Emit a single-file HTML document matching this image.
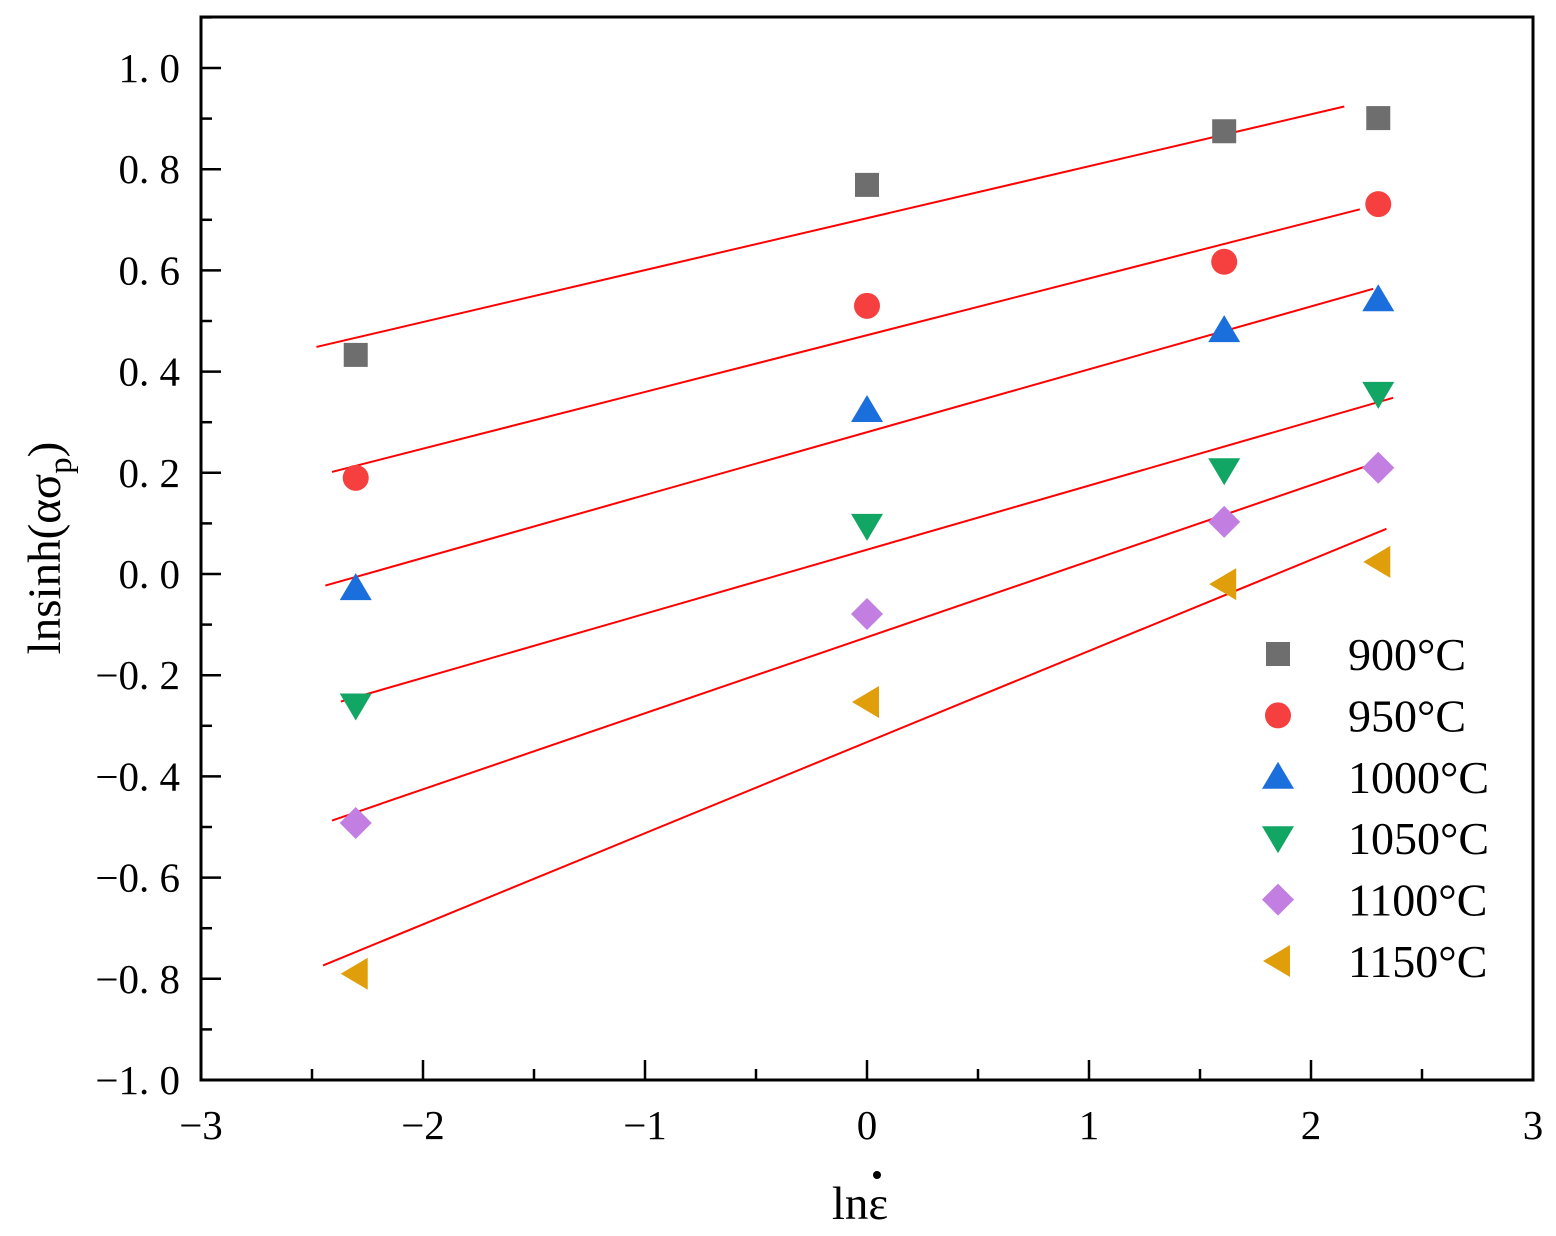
<!DOCTYPE html>
<html><head><meta charset="utf-8"><style>
html,body{margin:0;padding:0;background:#fff;}
svg{display:block;font-family:"Liberation Serif","Times New Roman",serif;}
</style></head><body>
<svg id="chart" width="1556" height="1236" viewBox="0 0 1556 1236">
<g id="plot"></g>
</svg>
<script>
const xCats = [-2.303, 0, 1.609, 2.303];
const seriesNames = ["900\u00B0C","950\u00B0C","1000\u00B0C","1050\u00B0C","1100\u00B0C","1150\u00B0C"];
const s900 = [0.433, 0.769, 0.875, 0.901];
const s950 = [0.190, 0.530, 0.617, 0.731];
const s1000 = [-0.028, 0.324, 0.482, 0.543];
const s1050 = [-0.260, 0.095, 0.205, 0.356];
const s1100 = [-0.492, -0.079, 0.103, 0.210];
const s1150 = [-0.790, -0.253, -0.020, 0.024];
const fitStart = [-2.48, -2.41, -2.44, -2.37, -2.41, -2.45];
const fitEnd = [2.15, 2.22, 2.28, 2.37, 2.30, 2.34];
const xTicks = [-3,-2,-1,0,1,2,3];
const yTicks = [-1.0,-0.8,-0.6,-0.4,-0.2,0.0,0.2,0.4,0.6,0.8,1.0];
const yLabels = ["\u22121. 0","\u22120. 8","\u22120. 6","\u22120. 4","\u22120. 2","0. 0","0. 2","0. 4","0. 6","0. 8","1. 0"];
const xLabels = ["\u22123","\u22122","\u22121","0","1","2","3"];

const L=201,R=1533,T=17,B=1080;
const X=v=>L+(v+3)/6*(R-L);
function yPx(v){return 1080-(v+1)*506;}
const NS="http://www.w3.org/2000/svg";
const svg=document.getElementById('chart');
function el(tag,attrs,parent){const e=document.createElementNS(NS,tag);for(const k in attrs)e.setAttribute(k,attrs[k]);(parent||svg).appendChild(e);return e;}

const frame=el('rect',{x:L,y:T,width:R-L,height:B-T,fill:'none',stroke:'#000','stroke-width':3});



xTicks.forEach((t,i)=>{
  const x=X(t);
  const tk=el('line',{x1:x,x2:x,y1:B,y2:B-20,stroke:'#000','stroke-width':2.5});
  
  
  if(i<xTicks.length-1){const xm=X(t+0.5);const m=el('line',{x1:xm,x2:xm,y1:B,y2:B-11,stroke:'#000','stroke-width':2.5});
    
    }
  const lb=el('text',{x:x,y:1139,'font-size':41,'text-anchor':'middle'});lb.textContent=xLabels[i];
  
  
});
yTicks.forEach((t,i)=>{
  const y=yPx(t);
  const tk=el('line',{x1:L,x2:L+20,y1:y,y2:y,stroke:'#000','stroke-width':2.5});
  
  
  const ym=yPx(t+0.1);
  if(ym>T){const m=el('line',{x1:L,x2:L+11,y1:ym,y2:ym,stroke:'#000','stroke-width':2.5});
    
    }
  const lb=el('text',{x:180,y:y+14,'font-size':41,'text-anchor':'end'});lb.textContent=yLabels[i];
  
  
});
const xt=el('text',{x:860,y:1219,'font-size':47,'text-anchor':'middle'});xt.textContent='ln\u03B5';


const dot=el('circle',{cx:877,cy:1175,r:4,fill:'#000'});


const yt=el('text',{transform:'translate(60,548) rotate(-90)','font-size':47,'text-anchor':'middle'});
yt.innerHTML='lnsinh(\u03B1\u03C3<tspan font-size="33" dy="11">p</tspan><tspan dy="-11">)</tspan>';



const all=[s900,s950,s1000,s1050,s1100,s1150];
const colors=['#6e6e6e','#f64040','#1a6fdc','#11a663','#c27ee0','#e09e0b'];
function marker(k,cx,cy,parent){
  const c=colors[k];let e;
  if(k===0) e=el('rect',{x:cx-12,y:cy-12,width:24,height:24,fill:c},parent);
  else if(k===1) e=el('circle',{cx:cx,cy:cy,r:13,fill:c},parent);
  else if(k===2) e=el('polygon',{points:`${cx},${cy-15} ${cx+16},${cy+12} ${cx-16},${cy+12}`,fill:c},parent);
  else if(k===3) e=el('polygon',{points:`${cx},${cy+15} ${cx+16},${cy-12} ${cx-16},${cy-12}`,fill:c},parent);
  else if(k===4) e=el('polygon',{points:`${cx},${cy-16} ${cx+16},${cy} ${cx},${cy+16} ${cx-16},${cy}`,fill:c},parent);
  else e=el('polygon',{points:`${cx-15},${cy} ${cx+12},${cy-16} ${cx+12},${cy+16}`,fill:c},parent);
  return e;
}
all.forEach((s,k)=>{
  const n=xCats.length;let mx=0,my=0;xCats.forEach((x,i)=>{mx+=x;my+=s[i];});mx/=n;my/=n;
  let sxy=0,sxx=0;xCats.forEach((x,i)=>{sxy+=(x-mx)*(s[i]-my);sxx+=(x-mx)*(x-mx);});
  const b=sxy/sxx,a=my-b*mx;
  const ln=el('line',{x1:X(fitStart[k]),y1:yPx(a+b*fitStart[k]),x2:X(fitEnd[k]),y2:yPx(a+b*fitEnd[k]),stroke:'#ff0000','stroke-width':2});
  
  
});
all.forEach((s,k)=>{
  s.forEach((v,i)=>{
    const m=marker(k,X(xCats[i]),yPx(v));
    
    
  });
});
seriesNames.forEach((nm,k)=>{
  const y=654+k*61.4;
  const g=el('g',{});
  
  
  marker(k,1278,y,g);
  const t=el('text',{x:1348,y:y+16,'font-size':46},g);t.textContent=nm;
});
</script>
</body></html>
